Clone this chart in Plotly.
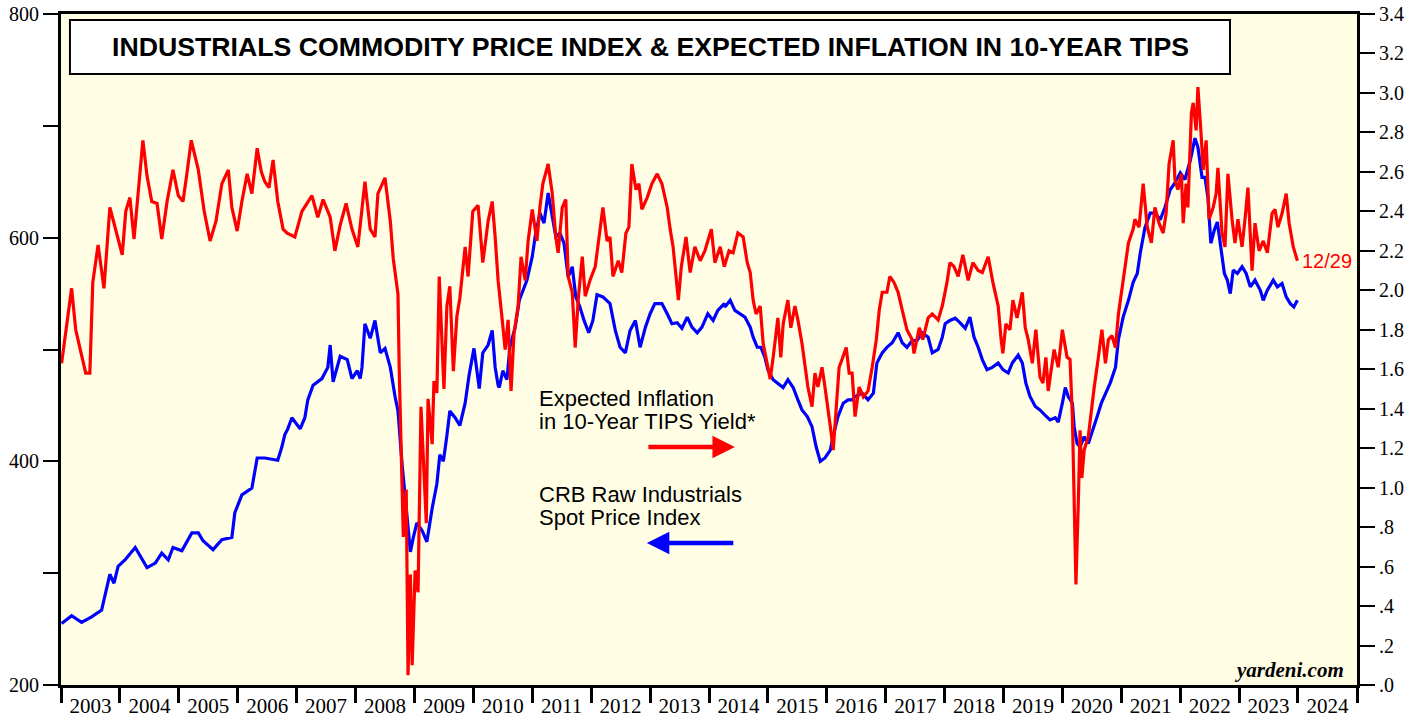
import plotly.graph_objects as go
import pandas as pd

# ---- data (dates as decimal years) ----
crb_t = [2003.01, 2003.18, 2003.35, 2003.52, 2003.69, 2003.75, 2003.83, 2003.90, 2003.97, 2004.09,
         2004.26, 2004.46, 2004.60, 2004.71, 2004.82, 2004.90, 2005.05, 2005.22, 2005.33, 2005.41,
         2005.58, 2005.73, 2005.90, 2005.95, 2006.07, 2006.24, 2006.33, 2006.46, 2006.68, 2006.75,
         2006.80, 2006.85, 2006.92, 2007.06, 2007.14, 2007.19, 2007.28, 2007.43, 2007.53, 2007.57,
         2007.62, 2007.74, 2007.86, 2007.94, 2008.03, 2008.08, 2008.11, 2008.16, 2008.25, 2008.33,
         2008.42, 2008.50, 2008.59, 2008.67, 2008.72, 2008.79, 2008.84, 2008.93, 2008.98, 2009.04,
         2009.13, 2009.21, 2009.30, 2009.38, 2009.43, 2009.49, 2009.55, 2009.60, 2009.69, 2009.77,
         2009.86, 2009.93, 2010.01, 2010.10, 2010.16, 2010.25, 2010.32, 2010.37, 2010.42, 2010.44,
         2010.50, 2010.57, 2010.62, 2010.71, 2010.78, 2010.84, 2010.91, 2011.00, 2011.05, 2011.13,
         2011.20, 2011.27, 2011.34, 2011.40, 2011.47, 2011.54, 2011.61, 2011.68, 2011.74, 2011.81,
         2011.88, 2011.96, 2012.03, 2012.10, 2012.20, 2012.32, 2012.41, 2012.49, 2012.58, 2012.66,
         2012.75, 2012.83, 2012.92, 2013.00, 2013.08, 2013.20, 2013.29, 2013.37, 2013.46, 2013.54,
         2013.63, 2013.71, 2013.80, 2013.88, 2013.98, 2014.07, 2014.15, 2014.26, 2014.27, 2014.36,
         2014.44, 2014.53, 2014.61, 2014.70, 2014.75, 2014.82, 2014.88, 2014.95, 2015.00, 2015.09,
         2015.17, 2015.26, 2015.34, 2015.43, 2015.51, 2015.58, 2015.67, 2015.75, 2015.82, 2015.89,
         2015.97, 2016.06, 2016.12, 2016.19, 2016.28, 2016.36, 2016.43, 2016.48, 2016.60, 2016.70,
         2016.79, 2016.85, 2016.94, 2017.02, 2017.11, 2017.21, 2017.28, 2017.36, 2017.45, 2017.53,
         2017.62, 2017.72, 2017.79, 2017.89, 2017.96, 2018.01, 2018.09, 2018.18, 2018.26, 2018.35,
         2018.43, 2018.50, 2018.57, 2018.64, 2018.72, 2018.81, 2018.91, 2018.99, 2019.08, 2019.15,
         2019.25, 2019.32, 2019.38, 2019.45, 2019.54, 2019.62, 2019.71, 2019.79, 2019.88, 2019.93,
         2020.00, 2020.05, 2020.10, 2020.17, 2020.20, 2020.25, 2020.30, 2020.37, 2020.44, 2020.50,
         2020.59, 2020.66, 2020.73, 2020.81, 2020.90, 2020.95, 2021.03, 2021.12, 2021.20, 2021.27,
         2021.32, 2021.40, 2021.49, 2021.57, 2021.66, 2021.74, 2021.83, 2021.91, 2022.00, 2022.08,
         2022.17, 2022.25, 2022.30, 2022.37, 2022.42, 2022.47, 2022.52, 2022.58, 2022.63, 2022.69,
         2022.75, 2022.80, 2022.85, 2022.90, 2022.97, 2023.05, 2023.12, 2023.19, 2023.27, 2023.36,
         2023.41, 2023.48, 2023.58, 2023.65, 2023.73, 2023.80, 2023.87, 2023.93, 2023.99]
crb_v = [255, 262, 256, 261, 267, 282, 299, 291, 306, 312,
         323, 305, 309, 318, 312, 323, 320, 336, 336, 329,
         321, 330, 332, 354, 370, 376, 403, 403, 401, 413,
         424, 429, 439, 429, 439, 455, 468, 474, 484, 504,
         471, 494, 491, 474, 481, 474, 484, 523, 510, 526,
         497, 501, 484, 458, 445, 397, 370, 319, 332, 345,
         338, 328, 358, 380, 406, 400, 423, 445, 439, 432,
         452, 478, 501, 465, 497, 504, 517, 484, 468, 466,
         481, 473, 502, 520, 544, 553, 562, 583, 601, 622,
         613, 640, 619, 601, 604, 595, 565, 574, 547, 538,
         526, 515, 526, 549, 547, 541, 517, 502, 497, 517,
         526, 502, 520, 532, 541, 541, 532, 523, 524, 519,
         529, 520, 515, 520, 532, 526, 535, 541, 538, 544,
         535, 532, 529, 520, 511, 502, 502, 493, 482, 473,
         470, 466, 473, 466, 455, 446, 440, 431, 413, 400,
         403, 410, 425, 440, 452, 455, 455, 458, 461, 455,
         461, 488, 497, 502, 506, 515, 506, 502, 508, 508,
         515, 511, 497, 500, 511, 523, 526, 528, 524, 519,
         529, 511, 502, 491, 482, 484, 488, 482, 479, 488,
         495, 488, 470, 458, 449, 446, 441, 437, 439, 435,
         452, 466, 458, 452, 431, 416, 413, 422, 416, 425,
         440, 452, 461, 470, 484, 509, 529, 544, 560, 568,
         586, 609, 622, 622, 616, 627, 643, 649, 658, 652,
         669, 689, 681, 654, 654, 636, 595, 607, 614, 592,
         568, 562, 550, 571, 568, 574, 568, 556, 562, 553,
         544, 553, 562, 556, 559, 547, 541, 538, 544]

tips_t = [2003.01, 2003.18, 2003.25, 2003.42, 2003.49, 2003.54, 2003.63, 2003.73, 2003.83, 2003.93,
          2004.04, 2004.10, 2004.17, 2004.24, 2004.31, 2004.39, 2004.46, 2004.54, 2004.63, 2004.71,
          2004.80, 2004.90, 2004.99, 2005.07, 2005.14, 2005.21, 2005.33, 2005.43, 2005.53, 2005.63,
          2005.73, 2005.84, 2005.90, 2005.99, 2006.07, 2006.16, 2006.24, 2006.33, 2006.40, 2006.46,
          2006.53, 2006.60, 2006.68, 2006.77, 2006.84, 2006.97, 2007.09, 2007.26, 2007.36, 2007.45,
          2007.57, 2007.65, 2007.74, 2007.84, 2007.94, 2008.04, 2008.16, 2008.25, 2008.33, 2008.38,
          2008.50, 2008.59, 2008.64, 2008.72, 2008.74, 2008.79, 2008.81, 2008.86, 2008.89, 2008.93,
          2008.96, 2009.01, 2009.06, 2009.11, 2009.15, 2009.20, 2009.23, 2009.30, 2009.33, 2009.38,
          2009.42, 2009.47, 2009.50, 2009.55, 2009.60, 2009.66, 2009.72, 2009.77, 2009.86, 2009.91,
          2009.99, 2010.08, 2010.16, 2010.25, 2010.32, 2010.37, 2010.42, 2010.49, 2010.54, 2010.59,
          2010.64, 2010.69, 2010.76, 2010.81, 2010.88, 2010.93, 2011.00, 2011.08, 2011.13, 2011.18,
          2011.27, 2011.34, 2011.40, 2011.44, 2011.51, 2011.57, 2011.61, 2011.68, 2011.73, 2011.78,
          2011.85, 2011.90, 2011.98, 2012.07, 2012.13, 2012.20, 2012.27, 2012.32, 2012.37, 2012.46,
          2012.52, 2012.59, 2012.64, 2012.69, 2012.76, 2012.81, 2012.86, 2012.95, 2013.03, 2013.12,
          2013.20, 2013.29, 2013.34, 2013.39, 2013.48, 2013.53, 2013.61, 2013.68, 2013.76, 2013.85,
          2013.93, 2014.04, 2014.10, 2014.19, 2014.26, 2014.34, 2014.41, 2014.49, 2014.58, 2014.65,
          2014.70, 2014.75, 2014.80, 2014.87, 2014.92, 2014.99, 2015.04, 2015.09, 2015.17, 2015.22,
          2015.26, 2015.34, 2015.39, 2015.46, 2015.51, 2015.58, 2015.63, 2015.68, 2015.75, 2015.80,
          2015.85, 2015.92, 2015.97, 2016.02, 2016.07, 2016.11, 2016.16, 2016.21, 2016.26, 2016.33,
          2016.38, 2016.43, 2016.48, 2016.55, 2016.62, 2016.70, 2016.77, 2016.84, 2016.89, 2016.94,
          2017.02, 2017.07, 2017.14, 2017.21, 2017.28, 2017.36, 2017.45, 2017.48, 2017.57, 2017.63,
          2017.72, 2017.79, 2017.89, 2017.96, 2018.04, 2018.09, 2018.16, 2018.23, 2018.31, 2018.40,
          2018.48, 2018.57, 2018.64, 2018.74, 2018.82, 2018.91, 2018.96, 2018.99, 2019.04, 2019.11,
          2019.16, 2019.23, 2019.32, 2019.37, 2019.42, 2019.49, 2019.55, 2019.62, 2019.67, 2019.72,
          2019.76, 2019.82, 2019.86, 2019.93, 2020.00, 2020.08, 2020.13, 2020.17, 2020.20, 2020.23,
          2020.27, 2020.30, 2020.33, 2020.37, 2020.44, 2020.49, 2020.54, 2020.61, 2020.67, 2020.73,
          2020.78, 2020.84, 2020.90, 2020.95, 2021.00, 2021.05, 2021.12, 2021.20, 2021.23, 2021.30,
          2021.37, 2021.44, 2021.51, 2021.57, 2021.64, 2021.71, 2021.76, 2021.81, 2021.88, 2021.91,
          2021.96, 2022.02, 2022.05, 2022.10, 2022.13, 2022.19, 2022.22, 2022.27, 2022.30, 2022.35,
          2022.39, 2022.44, 2022.49, 2022.56, 2022.61, 2022.64, 2022.71, 2022.76, 2022.81, 2022.88,
          2022.93, 2022.98, 2023.05, 2023.10, 2023.15, 2023.22, 2023.27, 2023.34, 2023.41, 2023.48,
          2023.56, 2023.61, 2023.66, 2023.73, 2023.80, 2023.85, 2023.92, 2023.99]
tips_v = [1.63, 2.01, 1.80, 1.58, 1.58, 2.04, 2.23, 2.01, 2.42, 2.30,
          2.18, 2.40, 2.47, 2.26, 2.50, 2.76, 2.58, 2.45, 2.44, 2.26,
          2.45, 2.61, 2.48, 2.45, 2.60, 2.76, 2.61, 2.40, 2.25, 2.35,
          2.54, 2.61, 2.42, 2.30, 2.45, 2.59, 2.49, 2.72, 2.60, 2.55,
          2.52, 2.66, 2.45, 2.31, 2.29, 2.27, 2.40, 2.48, 2.37, 2.46,
          2.37, 2.20, 2.33, 2.44, 2.31, 2.22, 2.55, 2.31, 2.27, 2.49,
          2.57, 2.35, 2.16, 1.98, 1.61, 0.93, 0.75, 0.99, 0.05, 0.56,
          0.10, 0.58, 0.47, 1.41, 1.11, 0.82, 1.45, 1.22, 1.54, 1.48,
          2.07, 1.76, 1.50, 1.92, 2.02, 1.59, 1.87, 1.96, 2.22, 2.07,
          2.40, 2.43, 2.14, 2.35, 2.45, 2.27, 2.05, 1.85, 1.70, 1.85,
          1.49, 1.78, 1.92, 2.17, 2.05, 2.25, 2.41, 2.25, 2.42, 2.54,
          2.64, 2.49, 2.27, 2.19, 2.42, 2.46, 2.07, 1.99, 1.71, 1.95,
          2.17, 1.97, 2.05, 2.12, 2.25, 2.42, 2.25, 2.27, 2.07, 2.15,
          2.09, 2.29, 2.32, 2.64, 2.51, 2.54, 2.41, 2.47, 2.54, 2.59,
          2.54, 2.42, 2.31, 2.22, 1.95, 2.12, 2.27, 2.09, 2.22, 2.15,
          2.20, 2.31, 2.14, 2.22, 2.12, 2.20, 2.19, 2.29, 2.27, 2.14,
          2.09, 1.95, 1.88, 1.92, 1.73, 1.63, 1.55, 1.66, 1.86, 1.66,
          1.83, 1.95, 1.81, 1.92, 1.85, 1.73, 1.61, 1.51, 1.41, 1.58,
          1.51, 1.61, 1.51, 1.41, 1.29, 1.19, 1.41, 1.61, 1.65, 1.71,
          1.58, 1.58, 1.36, 1.51, 1.46, 1.49, 1.61, 1.75, 1.90, 1.99,
          1.99, 2.07, 2.04, 1.99, 1.90, 1.80, 1.75, 1.68, 1.81, 1.75,
          1.86, 1.88, 1.85, 1.92, 2.04, 2.14, 2.12, 2.07, 2.18, 2.05,
          2.14, 2.10, 2.09, 2.17, 2.04, 1.92, 1.75, 1.68, 1.83, 1.80,
          1.95, 1.86, 1.99, 1.81, 1.75, 1.63, 1.80, 1.56, 1.53, 1.66,
          1.49, 1.63, 1.70, 1.61, 1.80, 1.66, 1.65, 1.36, 0.95, 0.51,
          0.92, 1.29, 1.05, 1.19, 1.26, 1.39, 1.51, 1.66, 1.80, 1.63,
          1.75, 1.77, 1.71, 1.88, 1.99, 2.10, 2.24, 2.31, 2.36, 2.32,
          2.54, 2.32, 2.24, 2.42, 2.34, 2.29, 2.39, 2.64, 2.76, 2.56,
          2.51, 2.59, 2.34, 2.54, 2.42, 2.90, 2.95, 2.81, 3.03, 2.81,
          2.61, 2.76, 2.36, 2.42, 2.49, 2.62, 2.29, 2.22, 2.59, 2.36,
          2.24, 2.36, 2.22, 2.36, 2.52, 2.10, 2.34, 2.20, 2.25, 2.19,
          2.39, 2.41, 2.32, 2.39, 2.49, 2.34, 2.22, 2.15]

left_ticks = [200, 300, 400, 500, 600, 700, 800]
left_labels = ["200", "", "400", "", "600", "", "800"]
right_ticks = [round(i * 0.2, 1) for i in range(18)]
right_labels = [".0", ".2", ".4", ".6", ".8", "1.0", "1.2", "1.4", "1.6", "1.8", "2.0",
                "2.2", "2.4", "2.6", "2.8", "3.0", "3.2", "3.4"]
last_label = "12/29"


def to_date(t):
    y = int(t)
    start = pd.Timestamp(year=y, month=1, day=1)
    end = pd.Timestamp(year=y + 1, month=1, day=1)
    return start + (end - start) * (t - y)


crb_d = [to_date(t) for t in crb_t]
tips_d = [to_date(t) for t in tips_t]

fig = go.Figure()
fig.add_trace(go.Scatter(x=crb_d, y=crb_v, mode="lines", yaxis="y",
                         line=dict(color="#0000FF", width=3.2), showlegend=False))
fig.add_trace(go.Scatter(x=tips_d, y=tips_v, mode="lines", yaxis="y2",
                         line=dict(color="#FF0000", width=3.2), showlegend=False))

serif = "Liberation Serif, Times New Roman, serif"
sans = "Liberation Sans, Arial, sans-serif"

fig.update_layout(
    width=1422, height=717,
    margin=dict(l=61, r=65, t=14, b=32, autoexpand=False),
    paper_bgcolor="white",
    plot_bgcolor="#FFFEE5",
    xaxis=dict(type="date", range=["2003-01-01", "2025-01-01"], automargin=False,
               dtick="M12", tick0="2003-01-01", tickformat="%Y",
               ticklabelmode="period", ticks="outside", ticklen=15, tickwidth=3,
               tickcolor="black", showgrid=False, zeroline=False,
               showline=True, linecolor="black", linewidth=3, mirror=True,
               ticklabelstandoff=-15,
               tickfont=dict(family=serif, size=21, color="black")),
    yaxis=dict(range=[200, 800], tickvals=left_ticks, ticktext=left_labels, automargin=False,
               ticks="outside", ticklen=15, tickwidth=2, tickcolor="black",
               showgrid=False, zeroline=False, showline=True, linecolor="black",
               linewidth=3, tickfont=dict(family=serif, size=20, color="black")),
    yaxis2=dict(range=[0, 3.4], tickvals=right_ticks, ticktext=right_labels, automargin=False,
                overlaying="y", side="right",
                ticks="outside", ticklen=15, tickwidth=2, tickcolor="black",
                showgrid=False, zeroline=False, showline=True, linecolor="black",
                linewidth=3, tickfont=dict(family=serif, size=20, color="black")),
)

# title box
fig.add_shape(type="rect", xref="paper", yref="paper", x0=0.0069, x1=0.902, y0=0.9106, y1=0.991,
              line=dict(color="black", width=2), fillcolor="white", layer="above")
fig.add_annotation(xref="paper", yref="paper", x=0.4545, y=0.951, xanchor="center", yanchor="middle",
                   showarrow=False,
                   text="<b>INDUSTRIALS COMMODITY PRICE INDEX & EXPECTED INFLATION IN 10-YEAR TIPS</b>",
                   font=dict(family=sans, size=26.7, color="black"))

# series labels
for txt, yy in [("Expected Inflation", 0.4277), ("in 10-Year TIPS Yield*", 0.3920),
                ("CRB Raw Industrials", 0.2846), ("Spot Price Index", 0.2489)]:
    fig.add_annotation(xref="paper", yref="paper", x=0.3673, y=yy, xanchor="left", yanchor="middle",
                       showarrow=False, text=txt, font=dict(family=sans, size=22, color="black"))

# arrows
fig.add_annotation(xref="paper", yref="paper", x=0.520, y=0.3547, ax=-88, ay=0, text="",
                   showarrow=True, arrowhead=2, arrowsize=1, arrowwidth=4.5, arrowcolor="#FF0000")
fig.add_annotation(xref="paper", yref="paper", x=0.452, y=0.2116, ax=88, ay=0, text="",
                   showarrow=True, arrowhead=2, arrowsize=1, arrowwidth=4.5, arrowcolor="#0000FF")

# end label
fig.add_annotation(xref="x", yref="y2", x="2024-01-12", y=tips_v[-1], xanchor="left", yanchor="middle",
                   showarrow=False, text=last_label, font=dict(family=sans, size=20, color="#FF0000"))

# source
fig.add_annotation(xref="paper", yref="paper", x=0.9915, y=0.0224, xanchor="right", yanchor="middle",
                   showarrow=False, text="<b><i>yardeni.com</i></b>",
                   font=dict(family=serif, size=21, color="black"))

fig.write_html("out.html", config={"displayModeBar": False},
               post_script="document.body.style.margin='0';")
